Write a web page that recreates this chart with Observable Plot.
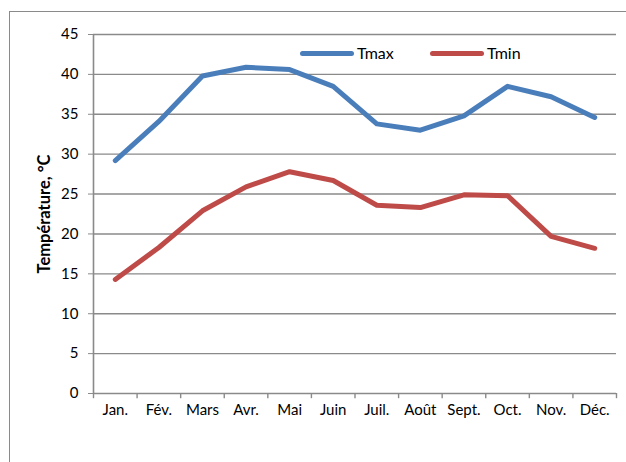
<!DOCTYPE html>
<html><head><meta charset="utf-8">
<script src="https://cdn.jsdelivr.net/npm/d3@7"></script>
<script src="https://cdn.jsdelivr.net/npm/@observablehq/plot@0.6"></script>
<style>
body{margin:0;background:#fff;overflow:hidden;font-family:Lato,"Open Sans",sans-serif;}
#wrap{position:relative;width:626px;height:462px;overflow:hidden;}
#frame{position:absolute;left:9px;top:11px;width:700px;height:600px;border:1px solid #8a8a8a;box-sizing:border-box;}
#chart{position:absolute;left:0;top:0;}
.leg{position:absolute;top:44px;display:flex;align-items:center;font-size:16px;line-height:18px;color:#000;}
.leg span{display:inline-block;height:5px;border-radius:3px;width:54px;margin-right:3px;}
</style></head>
<body><div id="wrap"><div id="frame"></div><div id="chart"></div>
<div class="leg" style="left:300px"><span style="background:#4a7ebb"></span>Tmax</div>
<div class="leg" style="left:430px"><span style="background:#be4b48"></span>Tmin</div>
</div>
<script>
const months = ["Jan.","Fév.","Mars","Avr.","Mai","Juin","Juil.","Août","Sept.","Oct.","Nov.","Déc."];
const tmax = [29.2,34.1,39.8,40.9,40.6,38.5,33.8,33.0,34.8,38.5,37.2,34.6];
const tmin = [14.3,18.3,22.9,25.9,27.8,26.7,23.6,23.3,24.9,24.8,19.7,18.2];
const yTicks = [0,5,10,15,20,25,30,35,40,45];
const series = [{name:"Tmax", values:tmax},{name:"Tmin", values:tmin}];
const data = series.flatMap(s => s.values.map((v,i)=>({series:s.name, i, v})));
const grid = "#8a8a8a";
const chart = Plot.plot({
  width:626, height:462,
  marginLeft:93, marginRight:10, marginTop:34, marginBottom:69,
  style:{fontFamily:"Lato, 'Open Sans', sans-serif", fontSize:"15px", color:"#000", background:"transparent"},
  x:{type:"linear", domain:[-0.5,11.5]},
  y:{domain:[0,45]},
  color:{domain:["Tmax","Tmin"], range:["#4a7ebb","#be4b48"]},
  marks:[
    Plot.gridY(yTicks.filter(d=>d>0), {stroke:grid, strokeOpacity:1, strokeWidth:1.4}),
    Plot.ruleY([0], {stroke:grid, strokeWidth:1.6}),
    Plot.ruleX([-0.5], {y1:0, y2:45, stroke:grid, strokeWidth:1.6}),
    Plot.ruleX(d3.range(13).map(i=>i-0.5), {y1:0, y2:-0.65, stroke:grid, strokeWidth:1.4}),
    Plot.axisY({ticks:yTicks, tickSize:5, tickPadding:10, stroke:grid, label:null, fill:"#000", fontSize:15}),
    Plot.axisX({ticks:d3.range(12), tickSize:0, tickPadding:11, tickFormat:i=>months[i], label:null, fill:"#000", fontSize:15}),
    Plot.text(["Température, °C"], {frameAnchor:"left", textAnchor:"middle", dx:-49, rotate:-90, fontWeight:"bold", fontSize:16.5, fill:"#000"}),
    Plot.line(data, {x:"i", y:"v", z:"series", stroke:"series", strokeWidth:5, strokeLinecap:"round", strokeLinejoin:"round"})
  ]
});
document.getElementById("chart").appendChild(chart);
</script></body></html>
